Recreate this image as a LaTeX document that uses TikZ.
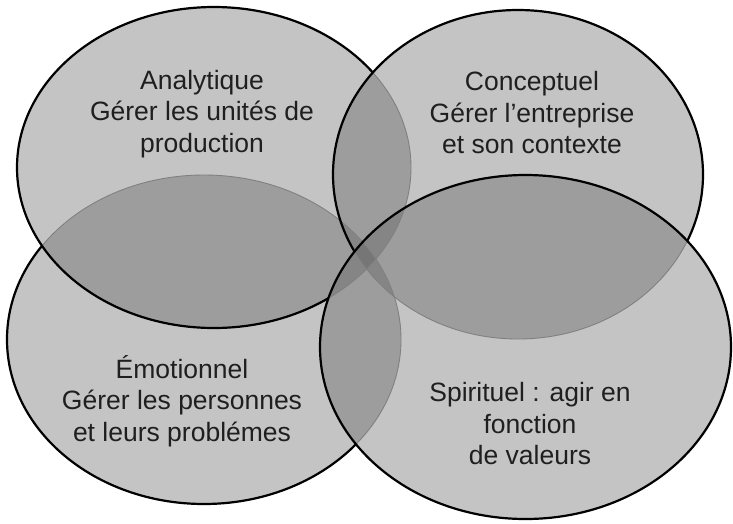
\documentclass[tikz,border=0pt]{standalone}
\usepackage{fontspec}
\setmainfont{Liberation Sans}
\definecolor{zonegray}{RGB}{89,89,89}
\begin{document}
\begin{tikzpicture}[x=1pt,y=-1pt,
  zone/.style={fill=zonegray, fill opacity=0.355},
  rim/.style={draw=black, line width=2.2pt},
  hidden rim/.style={draw=black!50, line width=0.9pt},
  label/.style={align=center, font=\fontsize{26.5}{31.5}\selectfont, text=black!88, inner sep=0pt}]
\useasboundingbox (0,0) rectangle (733,523);

% centres of the four domains
\coordinate (cA) at (214,167.5);
\coordinate (cC) at (518,174.5);
\coordinate (cE) at (204,339.5);
\coordinate (cS) at (525.5,347);

% translucent fills
\path[zone] (cE) ellipse [x radius=197, y radius=164.5];
\path[zone] (cA) ellipse [x radius=197, y radius=160.5];
\path[zone] (cC) ellipse [x radius=185, y radius=164.5];
\path[zone] (cS) ellipse [x radius=205.5, y radius=172];

% outlines seen through the overlapping shapes
\path[hidden rim] (cE) ellipse [x radius=197, y radius=164.5];
\path[hidden rim] (cA) ellipse [x radius=197, y radius=160.5];
\path[hidden rim] (cC) ellipse [x radius=185, y radius=164.5];

% outlines on top, each one masked by the shapes laid over it
\path[rim] (cS) ellipse [x radius=205.5, y radius=172];
\begin{scope}[even odd rule]
  \clip (-10,-10) rectangle (743,533) (cS) ellipse [x radius=205.5, y radius=172];
  \path[rim] (cC) ellipse [x radius=185, y radius=164.5];
  \begin{scope}[even odd rule]
    \clip (-10,-10) rectangle (743,533) (cC) ellipse [x radius=185, y radius=164.5];
    \path[rim] (cA) ellipse [x radius=197, y radius=160.5];
    \begin{scope}[even odd rule]
      \clip (-10,-10) rectangle (743,533) (cA) ellipse [x radius=197, y radius=160.5];
      \path[rim] (cE) ellipse [x radius=197, y radius=164.5];
    \end{scope}
  \end{scope}
\end{scope}

% labels
\node[label] (ana) at (202,114) {Analytique\\Gérer les unités de\\production};
\node[label] (con) at (532,113) {Conceptuel\\Gérer l’entreprise\\et son contexte};
\node[label] (emo) at (182,401) {Émotionnel\\Gérer les personnes\\et leurs problémes};
\node[label] (spi) at (530,424) {Spirituel : agir en\\fonction\\de valeurs};
\end{tikzpicture}
\end{document}
